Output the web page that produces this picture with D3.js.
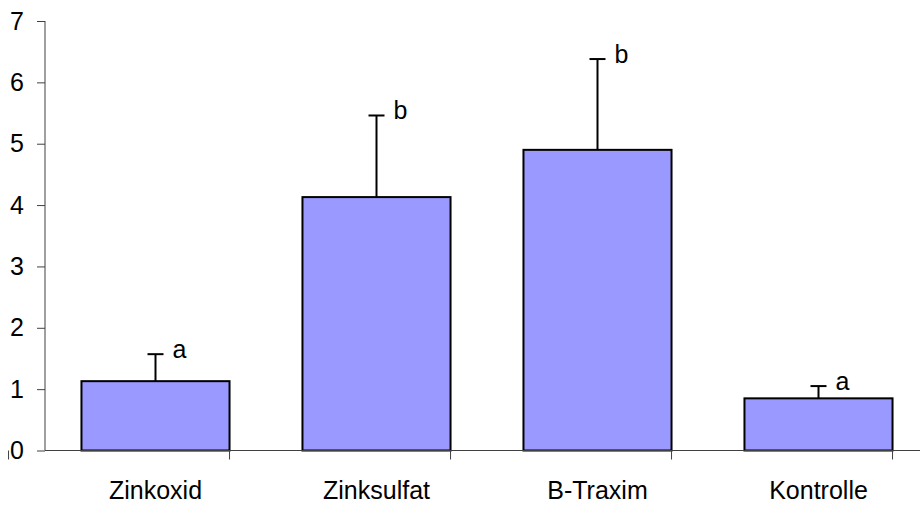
<!DOCTYPE html>
<html>
<head>
<meta charset="utf-8">
<script src="https://cdn.jsdelivr.net/npm/d3@7"></script>
<style>
  body { margin: 0; background: #fff; }
  text { font-family: "Liberation Sans", Arial, sans-serif; fill: #000; }
</style>
</head>
<body>
<div id="chart"></div>
<script>
// data
const categories = ['Zinkoxid', 'Zinksulfat', 'B-Traxim', 'Kontrolle'];
const means = [1.13, 4.13, 4.90, 0.85];
const errors = [0.44, 1.33, 1.48, 0.20];
const letters = ['a', 'b', 'b', 'a'];
const yTicks = [0, 1, 2, 3, 4, 5, 6, 7];

const svg = d3.select('#chart')
  .append('svg')
  .attr('width', 920)
  .attr('height', 506);

const margin = { top: 21, right: -9, bottom: 55.5, left: 45 };
const width = +svg.attr('width') - margin.left - margin.right;
const height = +svg.attr('height') - margin.top - margin.bottom;
const font = '"Liberation Sans", Arial, sans-serif';

const x = d3.scaleBand()
  .range([0, width])
  .paddingInner(0.33)
  .paddingOuter(0.165)
  .domain(categories);

const y = d3.scaleLinear()
  .range([height, 0])
  .domain([0, 7]);

const g = svg.append('g')
  .attr('transform', `translate(${margin.left},${margin.top})`);

// bars
g.selectAll('.bar')
  .data(categories)
  .enter().append('rect')
  .attr('class', 'bar')
  .attr('x', d => x(d))
  .attr('y', (d, i) => y(means[i]))
  .attr('width', x.bandwidth())
  .attr('height', (d, i) => height - y(means[i]))
  .attr('fill', '#9999ff')
  .attr('stroke', '#000')
  .attr('stroke-width', 2);

// upper error bars
const cx = d => x(d) + x.bandwidth() / 2;
g.selectAll('.err')
  .data(categories)
  .enter().append('line')
  .attr('x1', cx).attr('x2', cx)
  .attr('y1', (d, i) => y(means[i]))
  .attr('y2', (d, i) => y(means[i] + errors[i]))
  .attr('stroke', '#000')
  .attr('stroke-width', 2);

g.selectAll('.cap')
  .data(categories)
  .enter().append('line')
  .attr('x1', d => cx(d) - 8).attr('x2', d => cx(d) + 8)
  .attr('y1', (d, i) => y(means[i] + errors[i]))
  .attr('y2', (d, i) => y(means[i] + errors[i]))
  .attr('stroke', '#000')
  .attr('stroke-width', 2);

// significance letters
g.selectAll('.letter')
  .data(categories)
  .enter().append('text')
  .attr('x', d => cx(d) + 17)
  .attr('y', (d, i) => y(means[i] + errors[i]) + 4)
  .attr('font-size', 25)
  .text((d, i) => letters[i]);

// axes
const xAxis = g.append('g')
  .attr('transform', `translate(0,${height})`)
  .call(d3.axisBottom(x).tickSize(0).tickPadding(31));
xAxis.selectAll('text').attr('font-size', 25).attr('font-family', font);
xAxis.select('.domain').attr('stroke', '#404040').attr('d', `M0,0H${width}`);

// category separator ticks
const step = x.step();
const start = x(categories[0]) - x.paddingOuter() * step - x.paddingInner() * step / 2;
xAxis.selectAll('.sep')
  .data(d3.range(categories.length + 1))
  .enter().append('line')
  .attr('x1', i => start + i * step)
  .attr('x2', i => start + i * step)
  .attr('y1', 0).attr('y2', 9)
  .attr('stroke', '#404040');

const yAxis = g.append('g')
  .call(d3.axisLeft(y).tickValues(yTicks).tickFormat(d3.format('d')).tickSize(8).tickPadding(13));
yAxis.selectAll('text').attr('font-size', 25).attr('font-family', font);
yAxis.select('.domain').attr('stroke', '#404040').attr('d', `M0,${height}V0`);
yAxis.selectAll('.tick line').attr('stroke', '#404040');
</script>
</body>
</html>
